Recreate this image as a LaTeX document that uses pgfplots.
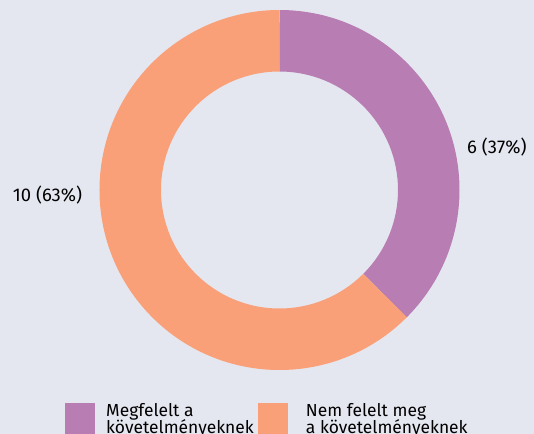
\documentclass[border=0pt]{standalone}
\usepackage{pgfplots}
\usepackage{pgfplotstable}
\pgfplotsset{compat=1.18}
\usepackage{fontspec}
\setmainfont{Fira Sans}
\definecolor{bgc}{RGB}{229,231,240}
\definecolor{purc}{RGB}{184,125,178}
\definecolor{orac}{RGB}{249,160,120}
\pgfplotstableread{
label value
Megfelelt 6
Nem 10
}\piedata
\begin{document}
\begin{tikzpicture}
\pgfplotstablegetelem{0}{value}\of\piedata \let\va\pgfplotsretval
\pgfplotstablegetelem{1}{value}\of\piedata \let\vb\pgfplotsretval
\pgfmathsetmacro{\tot}{\va+\vb}
\pgfmathsetmacro{\aA}{90}
\pgfmathsetmacro{\aB}{90-360*\va/\tot}
\pgfmathsetmacro{\aC}{\aB-360*\vb/\tot}
\def\cx{279.5}\def\cy{244}\def\ro{180}\def\ri{118.5}
\begin{axis}[name=ax, x=1bp, y=1bp, xmin=0, xmax=534, ymin=0, ymax=434,
  hide axis, clip=false, anchor=origin, at={(0,0)}]
\fill[bgc] (axis cs:0,0) rectangle (axis cs:534,434);
\fill[purc] (axis cs:{\cx+\ro*cos(\aA)},{\cy+\ro*sin(\aA)}) arc[start angle=\aA, end angle=\aB, radius=\ro bp]
  -- (axis cs:{\cx+\ri*cos(\aB)},{\cy+\ri*sin(\aB)}) arc[start angle=\aB, end angle=\aA, radius=\ri bp] -- cycle;
\fill[orac] (axis cs:{\cx+\ro*cos(\aB)},{\cy+\ro*sin(\aB)}) arc[start angle=\aB, end angle=\aC, radius=\ro bp]
  -- (axis cs:{\cx+\ri*cos(\aC)},{\cy+\ri*sin(\aC)}) arc[start angle=\aC, end angle=\aB, radius=\ri bp] -- cycle;
\node[anchor=west, inner sep=0pt, font=\fontsize{18.5}{20}\selectfont] at (axis cs:467,287) {6 (37\%)};
\node[anchor=west, inner sep=0pt, font=\fontsize{18.5}{20}\selectfont] at (axis cs:12.7,239) {10 (63\%)};
\fill[purc] (axis cs:64.5,-5) rectangle (axis cs:95,31);
\fill[orac] (axis cs:257.7,-5) rectangle (axis cs:287.5,31);
\begin{scope}[every node/.style={anchor=base west, inner sep=0pt, font=\fontsize{17.5}{17.5}\selectfont}]
\node at (axis cs:106,18) {Megfelelt a};
\node at (axis cs:106,0.5) {követelményeknek};
\node at (axis cs:305.7,18) {Nem felelt meg};
\node at (axis cs:305.7,0.5) {a követelményeknek};
\end{scope}
\end{axis}
\pgfresetboundingbox
\path (0,0) rectangle (534bp,434bp);
\end{tikzpicture}
\end{document}
